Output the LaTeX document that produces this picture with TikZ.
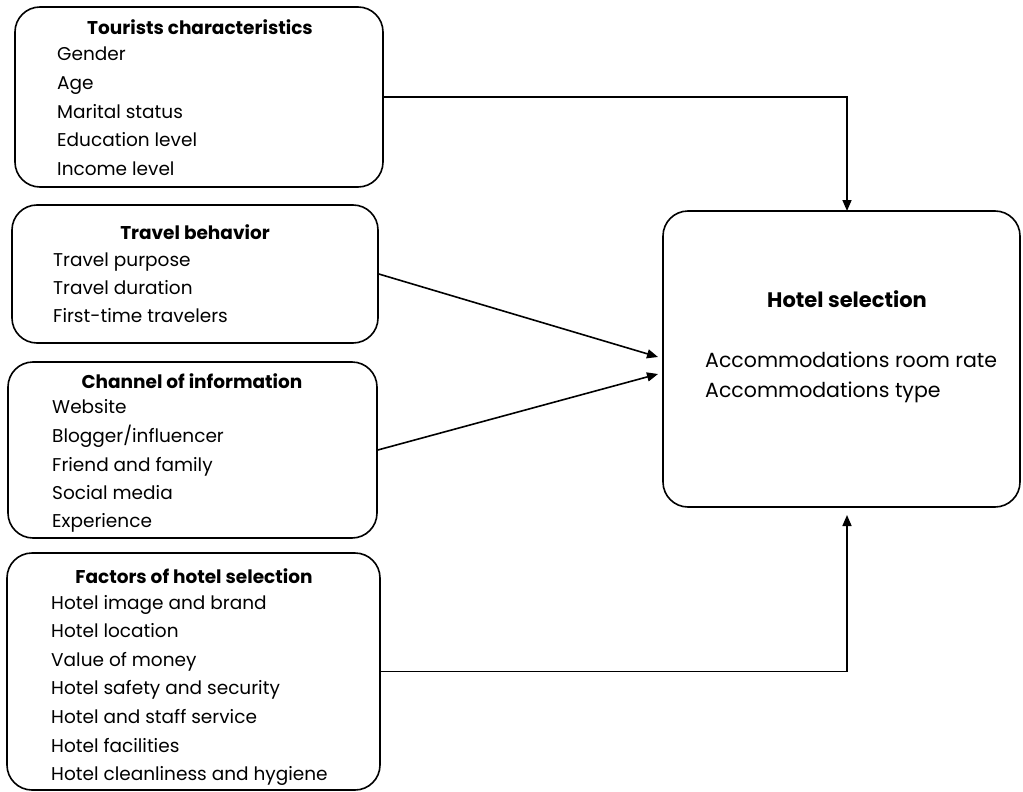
\documentclass[tikz,border=0pt]{standalone}
\usepackage{fontspec}
\setmainfont{Poppins}
\usetikzlibrary{positioning}
\usetikzlibrary{arrows.meta}

\tikzset{
  box/.style={draw=black,line width=1.6pt,rounded corners=25pt,inner sep=0pt},
  head/.style={font=\fontsize{18.5}{22}\selectfont\bfseries,anchor=base,inner sep=0pt},
  item/.style={font=\fontsize{18.5}{22}\selectfont,anchor=base west,inner sep=0pt},
  bighead/.style={head,font=\fontsize{21}{25}\selectfont\bfseries},
  bigitem/.style={item,font=\fontsize{20.5}{25}\selectfont},
  arr/.style={line width=1.6pt,-{Triangle[length=11pt,width=9pt]}}
}

\begin{document}
\begin{tikzpicture}[x=1pt,y=-1pt]
\useasboundingbox (0,0) rectangle (1023,792);

% boxes
\node[box,minimum width=368pt,minimum height=180pt] (tc) at (199,97) {};
\node[box,minimum width=366pt,minimum height=138pt] (tb) at (195,274) {};
\node[box,minimum width=369pt,minimum height=176pt] (ci) at (192.5,450) {};
\node[box,minimum width=373pt,minimum height=237pt] (fh) at (193.5,671.5) {};
\node[box,minimum width=357pt,minimum height=296pt] (hs) at (841.5,359) {};

% tourists characteristics
\node[head] (tch) at (200,35) {Tourists characteristics};
\node[item] (tc1) at (57,61) {Gender};
\node[item] (tc2) at (57,89.5) {Age};
\node[item] (tc3) at (57,118) {Marital status};
\node[item] (tc4) at (57,146.5) {Education level};
\node[item] (tc5) at (57,175) {Income level};

% travel behavior
\node[head] (tbh) at (195,239) {Travel behavior};
\node[item] (tb1) at (53,266) {Travel purpose};
\node[item] (tb2) at (53,294) {Travel duration};
\node[item] (tb3) at (53,322) {First-time travelers};

% channel of information
\node[head] (cih) at (192,388) {Channel of information};
\node[item] (ci1) at (52,413) {Website};
\node[item] (ci2) at (52,442) {Blogger/influencer};
\node[item] (ci3) at (52,471) {Friend and family};
\node[item] (ci4) at (52,499) {Social media};
\node[item] (ci5) at (52,527) {Experience};

% factors of hotel selection
\node[head] (fhh) at (194,583) {Factors of hotel selection};
\node[item] (fh1) at (51,609) {Hotel image and brand};
\node[item] (fh2) at (51,637) {Hotel location};
\node[item] (fh3) at (51,666) {Value of money};
\node[item] (fh4) at (51,694) {Hotel safety and security};
\node[item] (fh5) at (51,723) {Hotel and staff service};
\node[item] (fh6) at (51,752) {Hotel facilities};
\node[item] (fh7) at (51,780) {Hotel cleanliness and hygiene};

% hotel selection
\node[bighead] (hsh) at (847,307) {Hotel selection};
\node[bigitem] (hs1) at (705,367) {Accommodations room rate};
\node[bigitem] (hs2) at (705,397) {Accommodations type};

% arrows
\coordinate (in1) at (847,211);
\coordinate (in2) at (658,357);
\coordinate (in3) at (658,374);
\coordinate (in4) at (847,515);
\draw[arr] (tc.east) -| (in1);
\draw[arr] (tb.east) -- (in2);
\draw[arr] (ci.east) -- (in3);
\draw[arr] (fh.east) -| (in4);

\end{tikzpicture}
\end{document}
